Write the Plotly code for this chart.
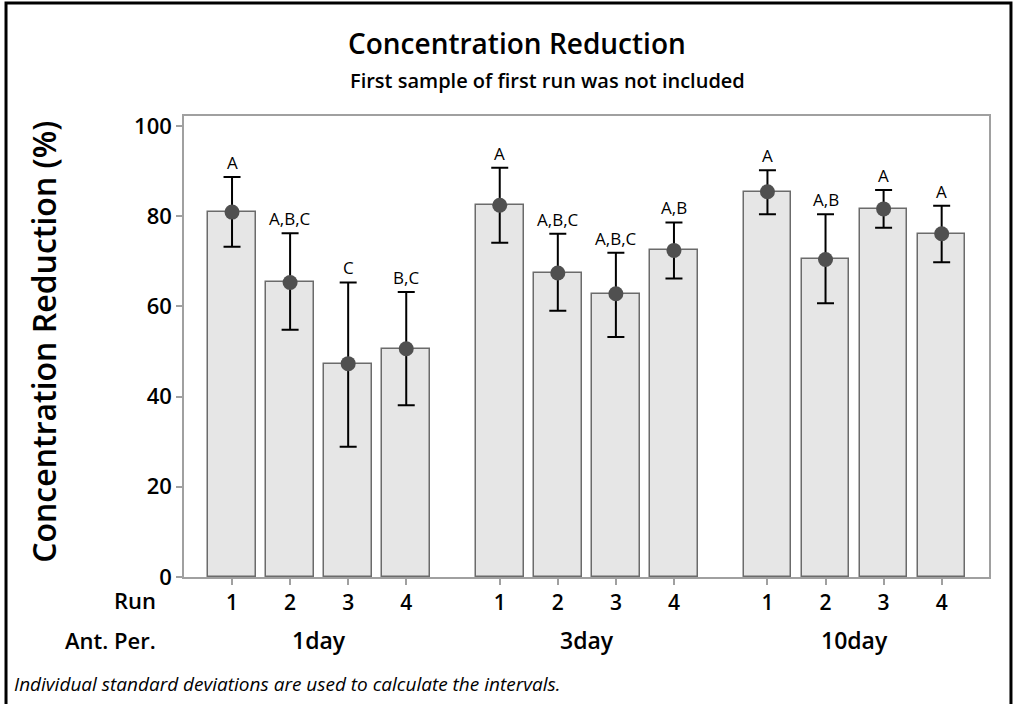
import plotly.graph_objects as go

# Data: mean concentration reduction (%) per run, with interval bounds
periods = ["1day", "3day", "10day"]
runs = [1, 2, 3, 4]
means = [80.9, 65.3, 47.3, 50.6,
         82.4, 67.4, 62.8, 72.4,
         85.4, 70.4, 81.6, 76.1]
upper = [88.7, 76.2, 65.3, 63.2,
         90.7, 76.1, 71.9, 78.6,
         90.2, 80.4, 85.8, 82.3]
lower = [73.2, 54.8, 28.9, 38.1,
         74.1, 59.0, 53.2, 66.2,
         80.4, 60.7, 77.4, 69.8]
groups = ["A", "A,B,C", "C", "B,C",
          "A", "A,B,C", "A,B,C", "A,B",
          "A", "A,B", "A", "A"]

# Layout of the clustered x positions
GROUP_GAP = 1.61
FONT = "Open Sans"

xpos = []
for g in range(len(periods)):
    for r in range(len(runs)):
        xpos.append(g * (len(runs) - 1 + GROUP_GAP) + r)

err_plus = [u - m for u, m in zip(upper, means)]
err_minus = [m - l for m, l in zip(means, lower)]

fig = go.Figure()
fig.add_trace(go.Bar(
    x=xpos, y=means, width=0.82,
    marker=dict(color="#e6e6e6", line=dict(color="#6b6b6b", width=1.5)),
    hoverinfo="skip", showlegend=False,
))
fig.add_trace(go.Scatter(
    x=xpos, y=means, mode="markers",
    marker=dict(size=15, color="#505050"),
    error_y=dict(type="data", symmetric=False, array=err_plus, arrayminus=err_minus,
                 color="black", thickness=2, width=8.5),
    showlegend=False,
))

annotations = []
for x, u, label in zip(xpos, upper, groups):
    annotations.append(dict(
        x=x, y=u, xref="x", yref="y", text=label, showarrow=False,
        yanchor="bottom", yshift=1, font=dict(family=FONT, size=17, color="black"),
    ))

# Group labels along the bottom
for g, p in enumerate(periods):
    center = g * (len(runs) - 1 + GROUP_GAP) + (len(runs) - 1) / 2
    annotations.append(dict(
        x=center, y=-0.1367, xref="x", yref="paper", text=p, showarrow=False,
        yanchor="middle", font=dict(family=FONT, size=23, color="black", weight=600),
    ))

annotations += [
    dict(x=-0.0323, y=-0.0499, xref="paper", yref="paper", text="Run", showarrow=False,
         xanchor="right", yanchor="middle",
         font=dict(family=FONT, size=22, color="black", weight=600)),
    dict(x=-0.0323, y=-0.1367, xref="paper", yref="paper", text="Ant. Per.", showarrow=False,
         xanchor="right", yanchor="middle",
         font=dict(family=FONT, size=22, color="black", weight=600)),
    dict(x=-0.2137, y=-0.233, xref="paper", yref="paper",
         text="<i>Individual standard deviations are used to calculate the intervals.</i>",
         showarrow=False, xanchor="left", yanchor="middle",
         font=dict(family=FONT, size=19, color="black")),
    dict(x=0.4137, y=1.158, xref="paper", yref="paper", text="Concentration Reduction",
         showarrow=False, xanchor="center", yanchor="middle",
         font=dict(family=FONT, size=28, color="black", weight=600)),
    dict(x=0.452, y=1.078, xref="paper", yref="paper",
         text="First sample of first run was not included",
         showarrow=False, xanchor="center", yanchor="middle",
         font=dict(family=FONT, size=20, color="black", weight=600)),
    dict(x=-0.174, y=0.51, xref="paper", yref="paper", text="Concentration Reduction (%)",
         showarrow=False, textangle=-90, xanchor="center", yanchor="middle",
         font=dict(family=FONT, size=32, color="black", weight=600)),
]

fig.update_layout(
    width=1013, height=704,
    margin=dict(l=184, r=24, t=116, b=127),
    paper_bgcolor="white", plot_bgcolor="white",
    annotations=annotations,
    bargap=0,
    shapes=[dict(type="rect", xref="paper", yref="paper",
                 x0=-0.2211, x1=1.0273, y0=-0.3, y1=1.2451,
                 line=dict(color="black", width=3), layer="above")],
)
fig.update_xaxes(
    range=[-0.827, xpos[-1] + 0.815],
    tickvals=xpos, ticktext=[str(r) for _ in periods for r in runs],
    ticks="outside", ticklen=6, tickcolor="#a0a0a0", tickwidth=1.5,
    showline=True, linecolor="#a0a0a0", linewidth=1.5, mirror=True,
    showgrid=False, zeroline=False,
    tickfont=dict(family=FONT, size=21, color="black", weight=600),
)
fig.update_yaxes(
    range=[0, 102.2], tickvals=[0, 20, 40, 60, 80, 100],
    ticks="outside", ticklen=6, tickcolor="#a0a0a0", tickwidth=1.5,
    showline=True, linecolor="#a0a0a0", linewidth=1.5, mirror=True,
    showgrid=False, zeroline=False,
    tickfont=dict(family=FONT, size=22, color="black", weight=600),
)

fig.write_html("out.html")
